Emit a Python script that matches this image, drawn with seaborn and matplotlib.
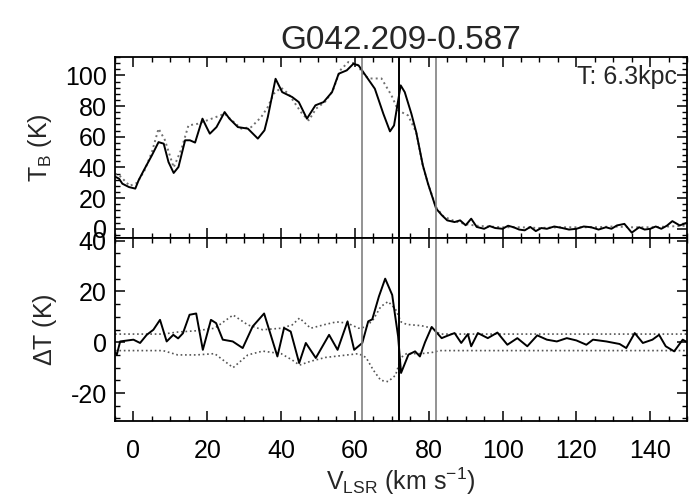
import numpy as np
import pandas as pd
import seaborn as sns
import matplotlib
matplotlib.use("Agg")
import matplotlib.pyplot as plt
from matplotlib.ticker import MultipleLocator

TITLE = "G042.209-0.587"
DIST_LABEL = "T: 6.3kpc"

# top panel: on-source brightness temperature (solid)
V_ON = [-5, -3.9, -3, -1.2, 0.5, 1.4, 2.8, 5, 6.8, 8.2, 9.5, 10.9, 12.2, 14, 15.3,
        16.7, 18.7, 19.8, 20.7, 22.5, 24.7, 26, 28.3, 31, 33.7, 35.5, 36.4, 38.5,
        40.3, 43, 44.8, 47, 49.3, 51.5, 53.8, 55.6, 57.8, 59.6, 61, 63.2, 65.4,
        67.7, 69.5, 70.6, 71.5, 72.4, 73.5, 75.3, 76.6, 78.4, 79.8, 82, 83.5, 85,
        87, 88.5, 90, 91.5, 93, 95, 96.5, 98, 100, 101.5, 103, 104.5, 106, 107.5,
        109, 110.5, 112, 114, 116, 118, 120, 122, 124, 126, 128, 129.5, 131, 133,
        135, 137, 138.5, 140, 141.5, 143, 144.5, 146, 148, 150]
T_ON = [34, 32.7, 29.4, 27.2, 26.2, 31.6, 38.1, 47.9, 56.5, 55.5, 43.5, 36.4, 40.3,
        57.7, 57.7, 56.2, 71.8, 66.3, 62, 66.3, 76.1, 71.8, 66.3, 65.3, 58.8, 64.2,
        72.8, 97.8, 89.1, 85.9, 82.6, 71.8, 80.5, 82.6, 89.1, 101.1, 103.3, 107.6,
        106.5, 98.9, 91.3, 75, 63.5, 67.4, 80.5, 93.5, 89.1, 75, 63.1, 41.4, 29.4,
        13.2, 9, 5.5, 4.4, 5.5, 2.3, 6.6, 1.2, 0, 1.8, 0.5, 0, 2, 1, -0.5, -1, 1.2,
        -1.5, 0.5, 0, 1.5, 0.6, -0.5, 0, 1.5, 1, -0.5, 1, 0, 2.2, 3.2, -2.5, 1,
        -0.5, 0, 1.5, 0, 2, 5, 2.2, 4]

# top panel: off-source (expected) brightness temperature (dotted)
V_OFF = [-5, -3.9, -1, 1, 3, 5, 6.8, 8.5, 10.9, 13, 14.9, 17.5, 21.2, 24.7, 27,
         29.2, 31.9, 34.6, 36.4, 38, 40, 42, 45.7, 47.5, 49.5, 52, 54, 56, 58.2,
         60.5, 62.5, 63.9, 67.2, 69.9, 71.7, 74.4, 76.6, 78.4, 80, 82, 84, 87, 90,
         93, 96, 100, 105, 110, 115, 120, 125, 130, 135, 140, 145, 150]
T_OFF = [36, 35, 28, 30, 38, 50, 65.3, 58, 40, 52, 67.4, 68.5, 71.8, 75, 70, 65.3,
         66.3, 72.8, 79.4, 88, 92, 88, 75, 70.7, 78.4, 83, 90, 103.3, 108.7, 107.6,
         100, 98, 98, 87, 77.2, 73.9, 63, 41, 28, 14, 8, 5, 3, 2, 1.5, 1, 1, 0.5, 1,
         1, 1, 1.5, 1, 1, 1.5, 2]

# bottom panel: difference spectrum (solid)
V_DT = [-5, -4.5, -3.6, 0, 1.8, 3.6, 5.4, 7.2, 9, 10.8, 12.1, 13.4, 15.2, 17, 18.8,
        21, 22.4, 24.2, 26.9, 29.6, 32.3, 35.4, 39, 40.8, 42.6, 44.9, 46.7, 49.4,
        53, 55.3, 58, 59.8, 62, 63.6, 64.7, 66.5, 68.2, 70.1, 70.8, 71.7, 72.5,
        74.5, 76.3, 77.6, 79, 80.8, 83.5, 85, 87, 88.8, 90.6, 91.5, 93.3, 96, 98.6,
        101.3, 104, 106.7, 109.4, 112, 114.7, 117.4, 120, 122.7, 124.5, 128.1,
        131.7, 133.5, 135.8, 138, 140.6, 142.4, 144.2, 146.5, 148.8, 150]
DT = [-4, -4.9, 0.3, 1, -0.3, 2.9, 4.9, 8.8, 0.3, 2.9, 1.5, 3.5, 10.8, 11.3, -3,
      8.8, 7.5, 1, 0.3, -2.3, 6.2, 11.3, -5.6, 5.6, 4.2, -8.2, -0.3, -6.2, 2.9, -3,
      8.2, -3, -0.3, 8.2, 9, 18, 25, 18.6, 11.4, 2.3, -12.1, -4.9, -3.6, -5.6, 0,
      6, 1.6, 2.5, 3.6, -0.3, 3.2, -1.6, 3.6, 1.6, 3.8, -1, 1.6, -1.6, 2.7, 1, 0.3,
      1.6, 0.7, -1, 1, 0.3, -0.7, -2.3, 3.6, -0.3, 1, 2.9, -1.6, -3.6, 1, 0]

# bottom panel: upper / lower noise envelope (dotted)
V_ENV = [-5, 8, 12, 17, 22, 27, 31, 35, 40, 43, 45, 48, 52, 55, 58, 61, 63, 65, 67,
         69, 71, 72.5, 74, 78, 81, 83, 150]
ENV_UP = [3.2, 3.2, 4, 4.5, 5.5, 10.7, 6.8, 4.9, 5.5, 6.8, 9.5, 5.5, 7, 8, 7.5,
          5.5, 6, 9, 14, 16, 13, 8, 7, 6.5, 5.5, 3.2, 3.2]
ENV_LO = [-3.3, -3.3, -5, -5, -4.5, -10, -5, -3.5, -4.5, -7, -9, -7.5, -6, -5.5,
          -5, -4.5, -6, -11, -15, -15.5, -13, -6, -4.5, -4.5, -4, -3.3, -3.3]

# tangent-point / source velocities
VLINES_GRAY = [62, 82]
VLINE_BLACK = 72

sns.set_style("ticks")
plt.rcParams.update({
    "font.family": ["Liberation Sans", "DejaVu Sans"],
    "mathtext.fontset": "custom",
    "mathtext.rm": "Liberation Sans",
    "mathtext.it": "Liberation Sans:italic",
    "axes.unicode_minus": False,
    "axes.linewidth": 1.3,
    "axes.edgecolor": "black",
    "xtick.direction": "in",
    "ytick.direction": "in",
    "xtick.top": True,
    "ytick.right": True,
    "xtick.major.size": 7,
    "ytick.major.size": 7,
    "xtick.minor.size": 3.5,
    "ytick.minor.size": 3.5,
    "xtick.major.width": 1.1,
    "ytick.major.width": 1.1,
    "xtick.minor.width": 1.0,
    "ytick.minor.width": 1.0,
    "xtick.color": "black",
    "ytick.color": "black",
    "font.size": 18,
})

fig = plt.figure(figsize=(6.91, 5.0), dpi=100)
ax1 = fig.add_axes([0.1664, 0.524, 0.828, 0.362])
ax2 = fig.add_axes([0.1664, 0.158, 0.828, 0.366], sharex=ax1)

sns.lineplot(x=V_OFF, y=T_OFF, ax=ax1, color="#707070", linestyle=":", linewidth=1.4,
             sort=False, estimator=None)
sns.lineplot(x=V_ON, y=T_ON, ax=ax1, color="black", linewidth=1.4,
             sort=False, estimator=None)

sns.lineplot(x=V_ENV, y=ENV_UP, ax=ax2, color="#555555", linestyle=":", linewidth=1.2,
             sort=False, estimator=None)
sns.lineplot(x=V_ENV, y=ENV_LO, ax=ax2, color="#555555", linestyle=":", linewidth=1.2,
             sort=False, estimator=None)
sns.lineplot(x=V_DT, y=DT, ax=ax2, color="black", linewidth=1.4,
             sort=False, estimator=None)

for ax in (ax1, ax2):
    for v in VLINES_GRAY:
        ax.axvline(v, color="#808080", linewidth=1.2)
    ax.axvline(VLINE_BLACK, color="black", linewidth=1.4)
    ax.set_xlim(-5, 150)
    ax.xaxis.set_major_locator(MultipleLocator(20))
    ax.xaxis.set_minor_locator(MultipleLocator(5))
    ax.tick_params(axis="both", which="both", top=True, right=True)
    ax.tick_params(axis="y", which="major", pad=6, labelsize=18)
    ax.tick_params(axis="x", which="major", pad=13, labelsize=18)

ax1.set_ylim(-6, 112)
ax1.yaxis.set_major_locator(MultipleLocator(20))
ax1.yaxis.set_minor_locator(MultipleLocator(4))
ax1.tick_params(axis="x", labelbottom=False)
ax1.set_xlabel("")
ax1.set_ylabel(r"T$_\mathrm{B}$ (K)", fontsize=18, labelpad=8)
ax1.set_title(TITLE, fontsize=24, pad=6)
ax1.text(0.983, 0.955, DIST_LABEL, transform=ax1.transAxes, ha="right", va="top",
         fontsize=18)

ax2.set_ylim(-31, 41)
ax2.yaxis.set_major_locator(MultipleLocator(20))
ax2.yaxis.set_minor_locator(MultipleLocator(5))
ax2.set_ylabel(r"$\Delta$T (K)", fontsize=18, labelpad=8)
ax2.set_xlabel(r"V$_\mathrm{LSR}$ (km s$^{-1}$)", fontsize=18, labelpad=2)

fig.savefig("out.png", dpi=100, facecolor="white")
